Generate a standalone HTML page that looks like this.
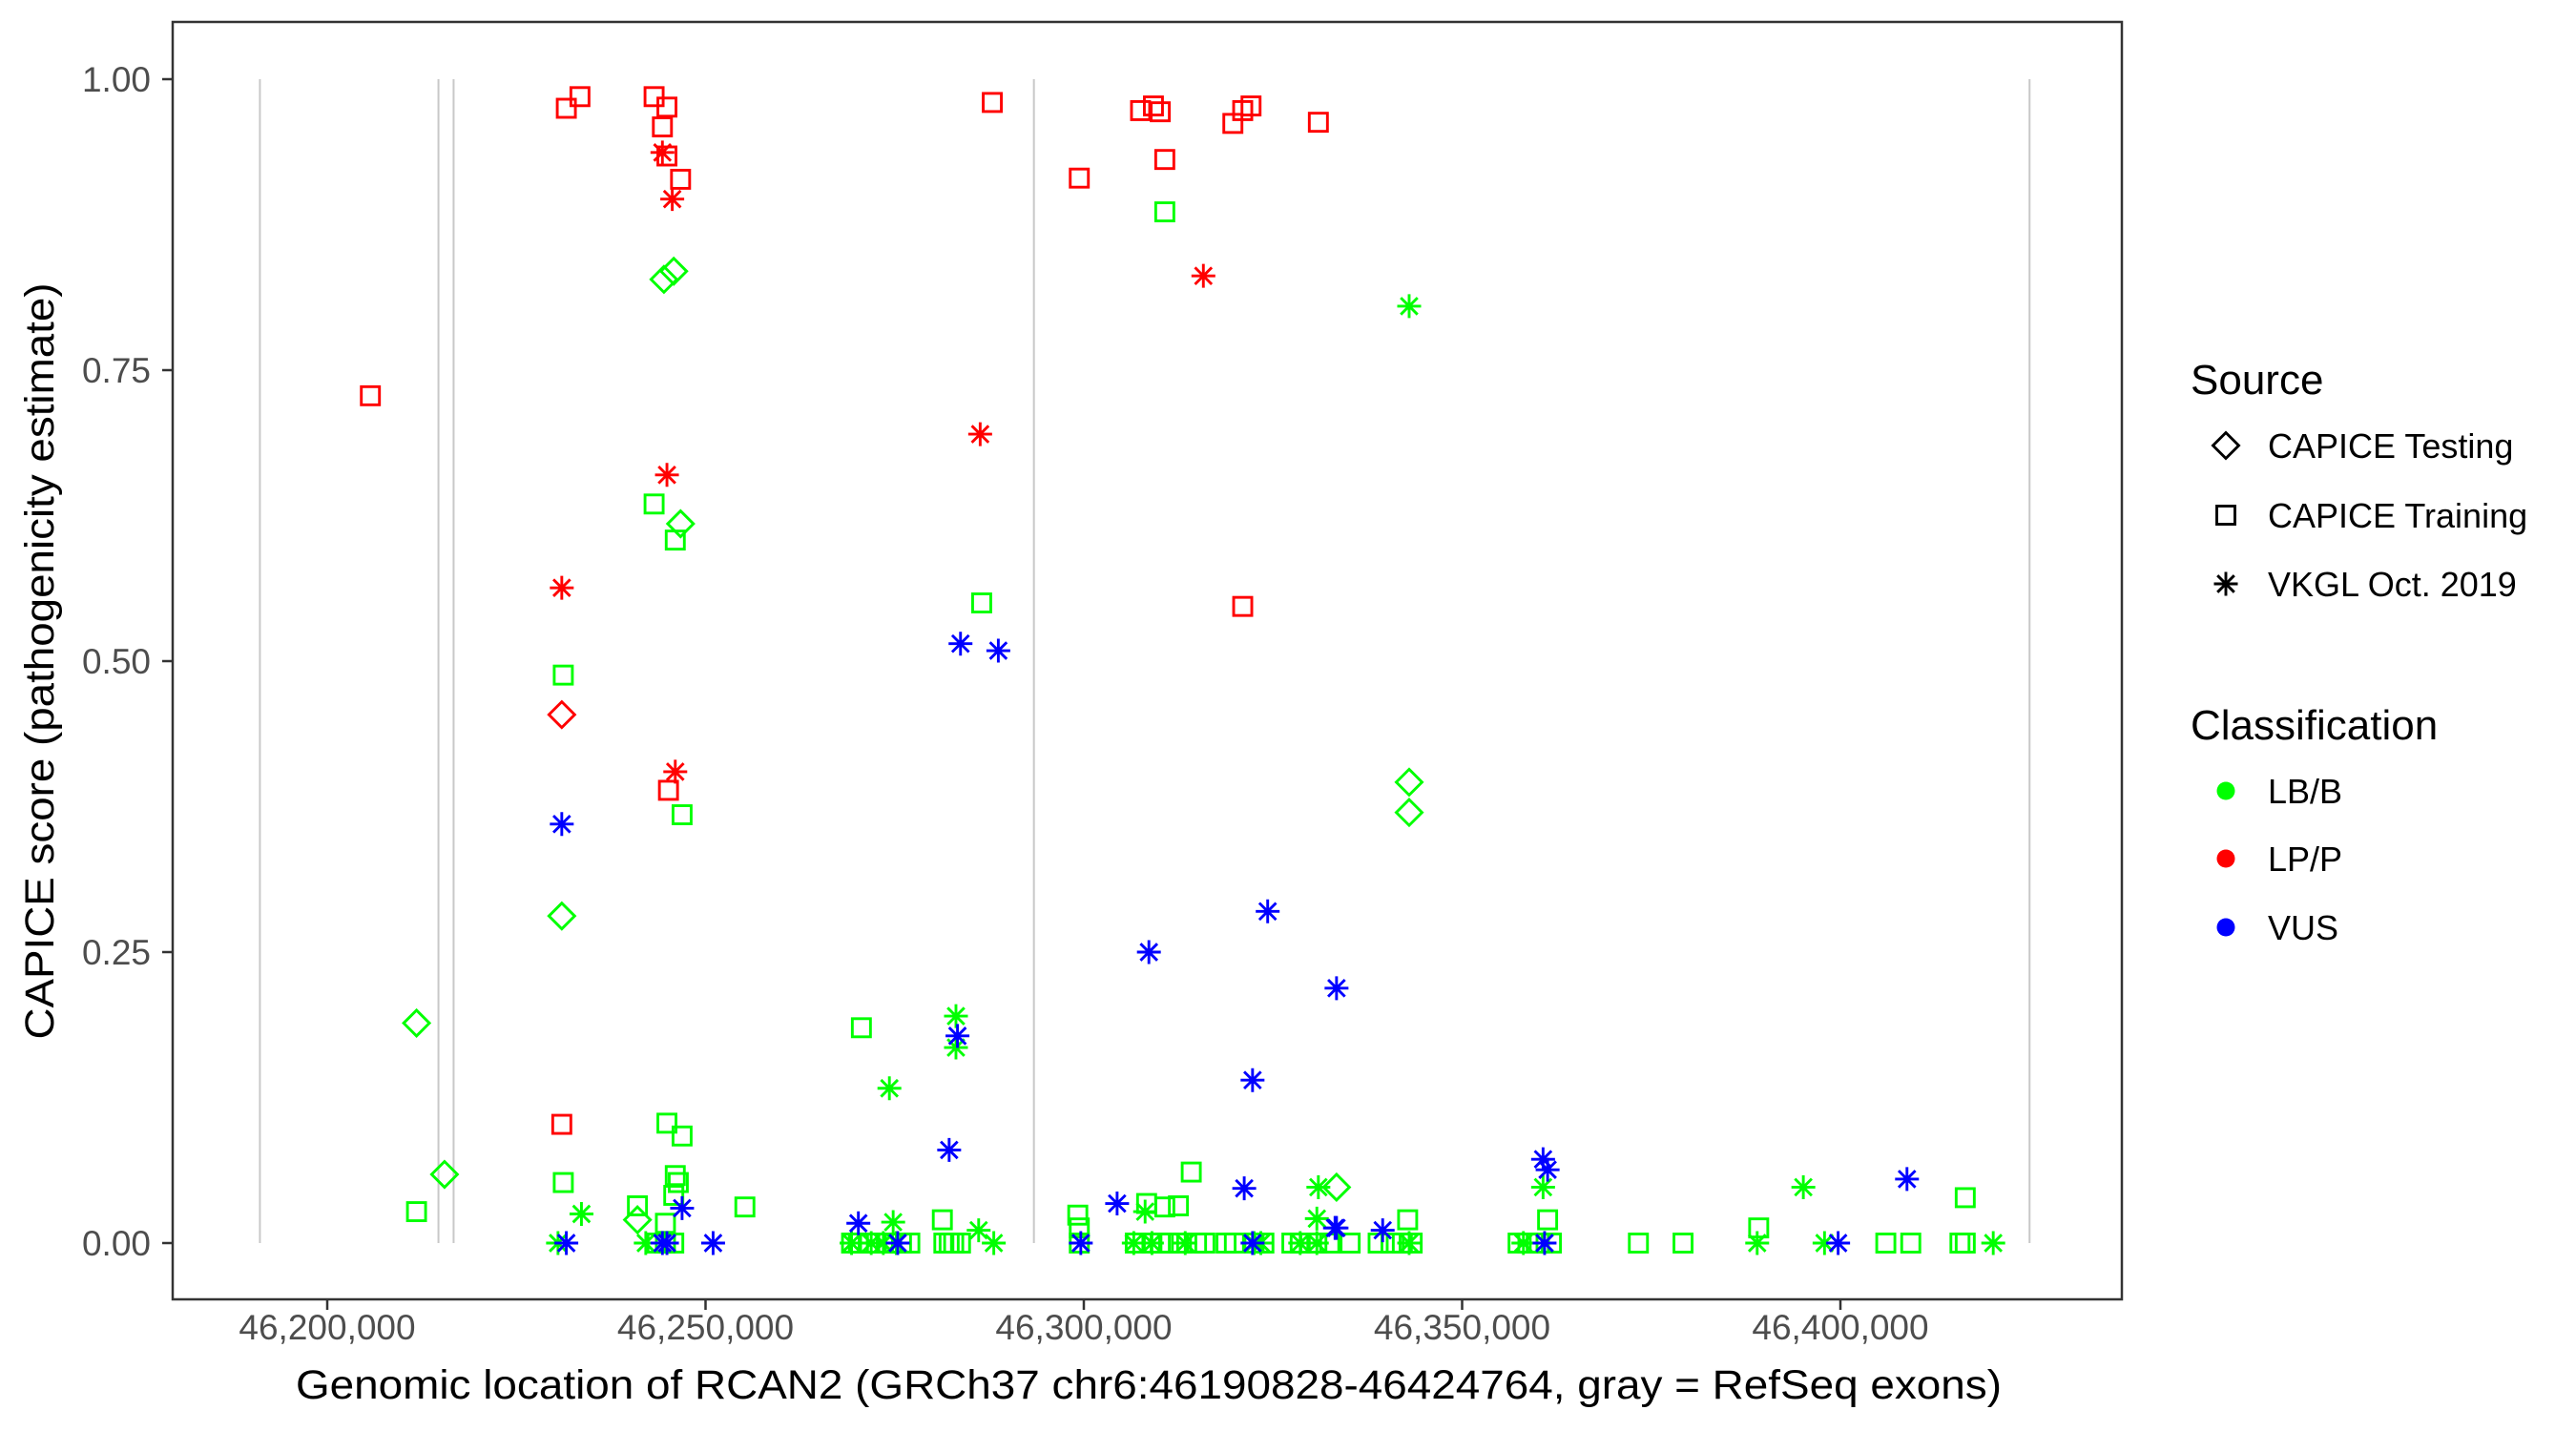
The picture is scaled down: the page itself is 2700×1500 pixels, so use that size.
<!DOCTYPE html>
<html><head><meta charset="utf-8"><style>
html,body{margin:0;padding:0;background:#fff;}
svg{display:block;font-family:"Liberation Sans",sans-serif;}
</style></head><body>
<svg id="chart" width="2700" height="1500" viewBox="0 0 2700 1500" xmlns="http://www.w3.org/2000/svg">
<rect x="0" y="0" width="2700" height="1500" fill="#fff"/>
<g id="exons"></g>
<g id="points"></g>
<rect x="181" y="23" width="2043" height="1339" fill="none" stroke="#333" stroke-width="2.5"/>
<g id="yaxis"></g>
<g id="xaxis"></g>
<text x="1204" y="1466" font-size="43" text-anchor="middle" textLength="1788" lengthAdjust="spacingAndGlyphs">Genomic location of RCAN2 (GRCh37 chr6:46190828-46424764, gray = RefSeq exons)</text>
<text transform="translate(56,693) rotate(-90)" font-size="43" text-anchor="middle" textLength="793" lengthAdjust="spacingAndGlyphs">CAPICE score (pathogenicity estimate)</text>
<g id="legend">
<text x="2296" y="413" font-size="44">Source</text>
<text x="2296" y="775" font-size="44">Classification</text>
</g>
</svg>
<script>
const exonStartsKb = [46191.1, 46214.7, 46216.7, 46293.4, 46425.0];
const xTicksKb = [46200, 46250, 46300, 46350, 46400];
const xTickLabels = ["46,200,000", "46,250,000", "46,300,000", "46,350,000", "46,400,000"];
const yTicks = [0, 0.25, 0.5, 0.75, 1];
const yTickLabels = ["0.00", "0.25", "0.50", "0.75", "1.00"];

const redSquarePos = [46205.7,46231.6,46233.4,46243.2,46244.3,46244.9,46244.9,46246.7,46287.9,46299.4,46307.5,46309.2,46310.1,46310.7,46319.7,46321.0,46322.1,46331.0,46321.0,46231.0,46245.1];
const redSquareScore = [.728,.975,.985,.985,.959,.976,.934,.914,.980,.915,.973,.977,.972,.931,.962,.973,.977,.963,.547,.102,.389];
const redStarPos = [46244.3,46245.6,46244.9,46231.0,46246.0,46286.3,46315.8];
const redStarScore = [.937,.897,.660,.563,.405,.695,.831];
const redDiamondPos = [46231.0];
const redDiamondScore = [.454];
const greenDiamondPos = [46244.5,46245.8,46246.7,46231.0,46211.8,46215.5,46241.0,46343.0,46343.0,46333.4];
const greenDiamondScore = [.828,.835,.618,.281,.189,.059,.020,.396,.370,.048];
const greenSquarePos = [46310.7,46243.2,46246.0,46231.2,46286.5,46246.9,46270.6,46244.9,46246.9,46231.2,46211.8,46246.0,46246.4,46245.8,46241.0,46244.7,46255.2,46314.2,46281.3,46299.2,46299.4,46308.3,46310.7,46312.5,46361.3,46342.8,46416.5,46389.2,
46243.6,46244.7,46245.8,46269.3,46270.2,46271.5,46272.6,46274.1,46275.9,46277.0,46281.5,46282.2,46282.8,46283.7,46299.4,46306.8,46309.0,46310.1,46311.2,46312.9,46314.9,46316.0,46318.8,46319.9,46322.5,46323.8,46327.5,46328.6,46330.8,46332.5,46335.2,46338.9,46340.6,46342.1,46343.4,46357.4,46358.7,46360.2,46361.8,46373.3,46379.2,46406.0,46409.3,46415.8,46416.5];
const greenSquareScore = [.886,.635,.604,.488,.550,.368,.185,.103,.092,.052,.027,.058,.052,.041,.032,.017,.031,.061,.020,.024,.013,.034,.031,.032,.020,.020,.039,.013,
0,0,0,0,0,0,0,0,0,0,0,0,0,0,0,0,0,0,0,0,0,0,0,0,0,0,0,0,0,0,0,0,0,0,0,0,0,0,0,0,0,0,0,0,0];
const greenStarPos = [46343.0,46283.1,46283.1,46274.3,46233.6,46274.8,46286.1,46308.1,46331.0,46330.8,46360.7,46395.1,
46230.5,46242.1,46269.3,46271.9,46273.5,46275.2,46288.1,46306.6,46309.0,46313.4,46322.5,46323.4,46328.6,46330.8,46343.0,46358.1,46389.0,46397.9,46420.2];
const greenStarScore = [.805,.195,.168,.133,.025,.018,.011,.027,.048,.021,.048,.048,
0,0,0,0,0,0,0,0,0,0,0,0,0,0,0,0,0,0,0];
const blueStarPos = [46283.7,46288.7,46231.0,46308.6,46324.3,46333.4,46322.3,46283.3,46282.2,46304.4,46321.2,46360.7,46361.3,46408.8,46246.9,46270.2,46333.2,46339.5,46333.4,
46231.6,46244.3,46244.9,46251.0,46275.4,46299.6,46322.3,46360.9,46399.7];
const blueStarScore = [.515,.509,.360,.250,.285,.219,.140,.178,.080,.034,.047,.072,.063,.055,.030,.017,.013,.011,.013,
0,0,0,0,0,0,0,0,0];

const sourceLabels = ["CAPICE Testing", "CAPICE Training", "VKGL Oct. 2019"];
const classLabels = ["LB/B", "LP/P", "VUS"];

const NS = "http://www.w3.org/2000/svg";
const GREEN = "#00ff00", RED = "#ff0000", BLUE = "#0000ff";
function xScale(kb){ return 343 + (kb - 46200) * 396.5 / 50; }
function yScale(s){ return 1303 - s * 1220; }
function mk(tag, attrs, parent){
  const e = document.createElementNS(NS, tag);
  for (const k in attrs) e.setAttribute(k, attrs[k]);
  parent.appendChild(e);
  return e;
}
function shape(kind, cx, cy, color, parent, name){
  let e;
  if (kind === "square") {
    e = mk("rect", {x: cx-9.5, y: cy-9.5, width: 19, height: 19, fill: "none", stroke: color, "stroke-width": 2.9}, parent);
  } else if (kind === "diamond") {
    e = mk("path", {d: `M${cx} ${cy-13.5}L${cx+13.5} ${cy}L${cx} ${cy+13.5}L${cx-13.5} ${cy}Z`, fill: "none", stroke: color, "stroke-width": 2.9}, parent);
  } else {
    const r = 12.5, d = 8.8;
    e = mk("path", {d: `M${cx-r} ${cy}H${cx+r}M${cx} ${cy-r}V${cy+r}M${cx-d} ${cy-d}L${cx+d} ${cy+d}M${cx-d} ${cy+d}L${cx+d} ${cy-d}`, fill: "none", stroke: color, "stroke-width": 2.9}, parent);
  }
  
  
  return e;
}

const exG = document.getElementById("exons");
exonStartsKb.forEach(kb => {
  const l = mk("line", {x1: xScale(kb), x2: xScale(kb), y1: yScale(1), y2: yScale(0), stroke: "#c8c8c8", "stroke-width": 2}, exG);
  
  
});

const yG = document.getElementById("yaxis");
yTicks.forEach((v, i) => {
  const y = yScale(v);
  const t = mk("line", {x1: 170, x2: 181, y1: y, y2: y, stroke: "#333", "stroke-width": 2.5}, yG);
  
  
  const lb = mk("text", {x: 158, y: y + 13, "font-size": 37, fill: "#4d4d4d", "text-anchor": "end"}, yG);
  lb.textContent = yTickLabels[i];
  
  
});
const xG = document.getElementById("xaxis");
xTicksKb.forEach((v, i) => {
  const x = xScale(v);
  const t = mk("line", {x1: x, x2: x, y1: 1362, y2: 1373, stroke: "#333", "stroke-width": 2.5}, xG);
  
  
  const lb = mk("text", {x: x, y: 1404, "font-size": 37, fill: "#4d4d4d", "text-anchor": "middle"}, xG);
  lb.textContent = xTickLabels[i];
  
  
});

const pG = document.getElementById("points");
function series(pos, score, kind, color, name){
  pos.forEach((p, i) => shape(kind, xScale(p), yScale(score[i]), color, pG, name));
}
series(redSquarePos, redSquareScore, "square", RED, "point-lpp-training");
series(greenSquarePos, greenSquareScore, "square", GREEN, "point-lbb-training");
series(greenDiamondPos, greenDiamondScore, "diamond", GREEN, "point-lbb-testing");
series(redDiamondPos, redDiamondScore, "diamond", RED, "point-lpp-testing");
series(greenStarPos, greenStarScore, "star", GREEN, "point-lbb-vkgl");
series(blueStarPos, blueStarScore, "star", BLUE, "point-vus-vkgl");
series(redStarPos, redStarScore, "star", RED, "point-lpp-vkgl");

const lg = document.getElementById("legend");
const srcKinds = ["diamond", "square", "star"];
const srcY = [467, 540, 612];
sourceLabels.forEach((s, i) => {
  shape(srcKinds[i], 2333, srcY[i], "#000", lg, "legend-source-key");
  const t = mk("text", {x: 2377, y: srcY[i] + 13, "font-size": 36}, lg);
  t.textContent = s;
  
  
});
const clsColors = [GREEN, RED, BLUE];
const clsY = [829, 900, 972];
classLabels.forEach((s, i) => {
  const c = mk("circle", {cx: 2333, cy: clsY[i], r: 9.5, fill: clsColors[i]}, lg);
  
  
  const t = mk("text", {x: 2377, y: clsY[i] + 13, "font-size": 36}, lg);
  t.textContent = s;
  
  
});
</script>
</body></html>
